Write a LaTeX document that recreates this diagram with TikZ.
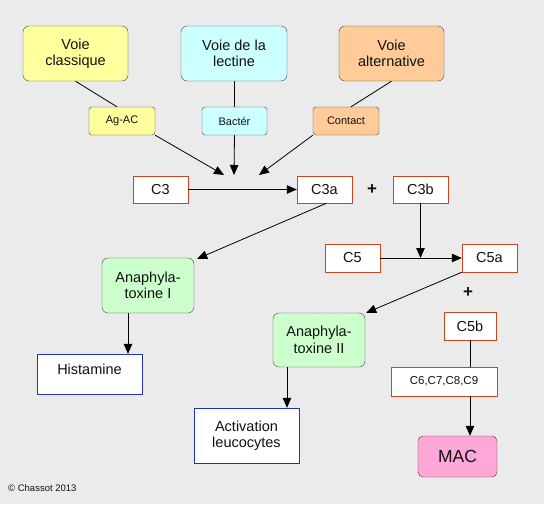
\documentclass[tikz,border=0pt]{standalone}
\usepackage{fontspec}
\setmainfont{Liberation Sans}
\usetikzlibrary{arrows.meta,calc}
\definecolor{bg}{HTML}{EBEBEB}
\definecolor{rounddraw}{HTML}{444444}
\definecolor{fracred}{HTML}{CC4422}
\definecolor{effblue}{HTML}{2233BB}
\definecolor{classyellow}{HTML}{FFFF9E}
\definecolor{lectcyan}{HTML}{CCFFFF}
\definecolor{altpeach}{HTML}{FFCC99}
\definecolor{toxgreen}{HTML}{CCFFCC}
\definecolor{macpink}{HTML}{FFA8D8}
\definecolor{macdraw}{HTML}{553344}
\definecolor{ink}{HTML}{111111}
\tikzstyle{voie} = [rectangle, draw=rounddraw, rounded corners=6pt, text centered, align=center, minimum width=105pt, minimum height=55pt, font=\fontsize{14.5}{16.5}\selectfont]
\tikzstyle{trigger} = [rectangle, draw=rounddraw, rounded corners=3pt, text centered, minimum width=66pt, minimum height=28pt, font=\fontsize{11}{13}\selectfont]
\tikzstyle{fraction} = [rectangle, draw=fracred, fill=white, text centered, minimum width=55pt, minimum height=27pt, font=\fontsize{14.5}{16.5}\selectfont]
\tikzstyle{toxine} = [rectangle, draw=rounddraw, fill=toxgreen, rounded corners=6pt, text centered, align=center, minimum width=92pt, minimum height=55pt, font=\fontsize{14.5}{16.5}\selectfont]
\tikzstyle{effet} = [rectangle, draw=effblue, fill=white, text centered, align=center, minimum width=105pt, font=\fontsize{14.5}{16.5}\selectfont]
\tikzstyle{plus} = [font=\fontsize{17}{19}\selectfont\bfseries]
\tikzstyle{connector} = [line width=0.8pt, -{Triangle[length=10pt,width=8.5pt]}]
\tikzstyle{link} = [line width=0.8pt]
\begin{document}
\begin{tikzpicture}[x=1pt, y=-1pt, text=ink]
            \fill[bg] (0,0) rectangle (544,504);
            \useasboundingbox (0,0) rectangle (544,504);
            % pathways
            \node (vclass) [voie, fill=classyellow] at (75.5,53.5) {Voie\\classique};
            \node (vlect) [voie, fill=lectcyan, minimum width=106pt] at (234,53.5) {Voie de la\\lectine};
            \node (valt) [voie, fill=altpeach] at (391.5,53.5) {Voie\\alternative};
            \node (agac) [trigger, fill=classyellow] at (122,121) {Ag-AC};
            \node (bacter) [trigger, fill=lectcyan, minimum width=65pt] at (234.5,121) {Bactér};
            \node (contact) [trigger, fill=altpeach] at (346,121) {Contact};
            % fractions
            \node (c3) [fraction] at (160.5,189.5) {C3};
            \node (c3a) [fraction] at (324.5,189.5) {C3a};
            \node (plusA) [plus] at (372,190) {+};
            \node (c3b) [fraction] at (420.5,189.5) {C3b};
            \node (c5) [fraction, minimum height=28pt] at (352.5,258) {C5};
            \node (c5a) [fraction, minimum height=28pt] at (489.5,258) {C5a};
            \node (plusB) [plus] at (468,293) {+};
            \node (c5b) [fraction, minimum width=52pt, minimum height=28pt] at (470,326) {C5b};
            \node (c6c9) [fraction, minimum width=106pt, minimum height=29pt, font=\fontsize{11.5}{13}\selectfont] at (444,381.5) {C6,C7,C8,C9};
            \node (mac) [rectangle, draw=macdraw, fill=macpink, rounded corners=5pt, minimum width=79pt, minimum height=41pt, font=\fontsize{17.5}{20}\selectfont] at (457.5,456.5) {MAC};
            % effects
            \node (anaI) [toxine] at (148,285.5) {Anaphyla-\\toxine I};
            \node (anaII) [toxine, minimum height=54pt] at (319,340) {Anaphyla-\\toxine II};
            \node (histamine) [effet, inner sep=0pt, text height=20pt, text depth=20pt] at (89.5,374) {Histamine};
            \node (activation) [effet, minimum height=55pt] at (246.5,435.5) {Activation\\leucocytes};
            \node (copy) [anchor=west, inner sep=0pt, font=\fontsize{9.5}{11}\selectfont] at (8,488) {© Chassot 2013};
            \coordinate (joinL) at (224,175);
            \coordinate (joinM) at (234,175);
            \coordinate (joinR) at (259,175);
            \coordinate (c5join) at (c3b.south |- c5.east);
            \draw [link] (vclass.south) -- ([xshift=-5pt]agac.north);
            \draw [link] (vlect.south) -- (vlect.south |- bacter.north);
            \draw [link] (valt.south) -- ([xshift=5pt]contact.north);
            \draw [connector] (agac.south east) -- (joinL);
            \draw [connector] (bacter.south) -- (joinM);
            \draw [connector] (contact.south west) -- (joinR);
            \draw [connector] (c3) -- (c3a);
            \draw [connector] ([xshift=2pt]c3a.south) -- ([xshift=3pt,yshift=-1pt]anaI.north east);
            \draw [connector] (c3b.south) -- (c5join);
            \draw [connector] (c5) -- (c5a);
            \draw [connector] (c5a.south west) -- ([xshift=1pt]anaII.north east);
            \draw [connector] ([xshift=-20pt]anaI.south) -- ([xshift=-20pt]anaI.south |- histamine.north);
            \draw [connector] ([xshift=-32pt]anaII.south) -- ([xshift=-32pt]anaII.south |- activation.north);
            \draw [link] (c5b.south) -- (c5b.south |- c6c9.north);
            \draw [connector] (c5b.south |- c6c9.south) -- (c5b.south |- mac.north);
        \end{tikzpicture}
\end{document}
